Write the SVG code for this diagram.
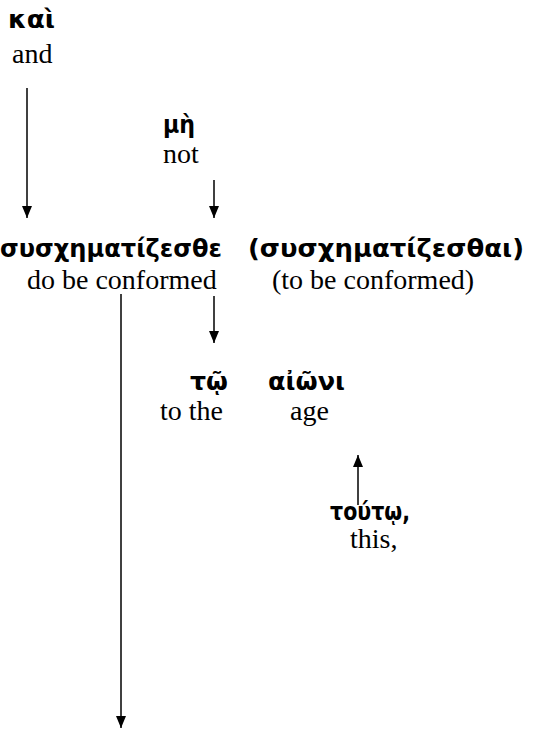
<svg xmlns="http://www.w3.org/2000/svg" width="554" height="740" viewBox="0 0 554 740">
<style>
.gk{font-family:"DejaVu Sans","Noto Sans",sans-serif;font-weight:bold;font-size:24px;fill:#000}
.en{font-family:"Times New Roman","Liberation Serif","DejaVu Serif",serif;font-size:28px;fill:#000}
.c{stroke:#000;stroke-width:1.5;fill:none}
</style>
<defs>
<marker id="ah" viewBox="0 0 12 10" refX="12" refY="5" markerWidth="12" markerHeight="10" markerUnits="userSpaceOnUse" orient="auto">
<path d="M0,0 L12,5 L0,10 Z" fill="#000"/>
</marker>
</defs>
<rect width="554" height="740" fill="#fff"/>
<g id="connectors">
<line class="c" x1="27" y1="88" x2="27" y2="218" marker-end="url(#ah)"/>
<line class="c" x1="214" y1="180" x2="214" y2="218" marker-end="url(#ah)"/>
<line class="c" x1="121" y1="294" x2="121" y2="728" marker-end="url(#ah)"/>
<line class="c" x1="214" y1="296" x2="214" y2="343" marker-end="url(#ah)"/>
<line class="c" x1="358" y1="505" x2="358" y2="455" marker-end="url(#ah)"/>
</g>
<g id="kai">
<text class="gk" x="8" y="28" textLength="47" lengthAdjust="spacingAndGlyphs">καὶ</text>
<text class="en" x="12" y="63" font-family="Times New Roman, Liberation Serif, serif">and</text>
</g>
<g id="me">
<text class="gk" x="163" y="133" textLength="32" lengthAdjust="spacingAndGlyphs">μὴ</text>
<text class="en" x="163" y="163" font-family="Times New Roman, Liberation Serif, serif">not</text>
</g>
<g id="verb">
<text class="gk" x="0" y="257" textLength="222" lengthAdjust="spacingAndGlyphs">συσχηματίζεσθε</text>
<text class="en" x="27" y="289" font-family="Times New Roman, Liberation Serif, serif">do be conformed</text>
</g>
<g id="inf">
<text class="gk" x="248" y="257" textLength="276" lengthAdjust="spacingAndGlyphs">(συσχηματίζεσθαι)</text>
<text class="en" x="272" y="289" font-family="Times New Roman, Liberation Serif, serif">(to be conformed)</text>
</g>
<g id="to">
<text class="gk" x="190" y="390" textLength="38" lengthAdjust="spacingAndGlyphs">τῷ</text>
<text class="en" x="160" y="420" font-family="Times New Roman, Liberation Serif, serif">to the</text>
</g>
<g id="aioni">
<text class="gk" x="268" y="390" textLength="77" lengthAdjust="spacingAndGlyphs">αἰῶνι</text>
<text class="en" x="290" y="420" font-family="Times New Roman, Liberation Serif, serif">age</text>
</g>
<g id="touto">
<text class="gk" x="330" y="520" textLength="80" lengthAdjust="spacingAndGlyphs">τούτῳ,</text>
<text class="en" x="350" y="548" font-family="Times New Roman, Liberation Serif, serif">this,</text>
</g>
</svg>
